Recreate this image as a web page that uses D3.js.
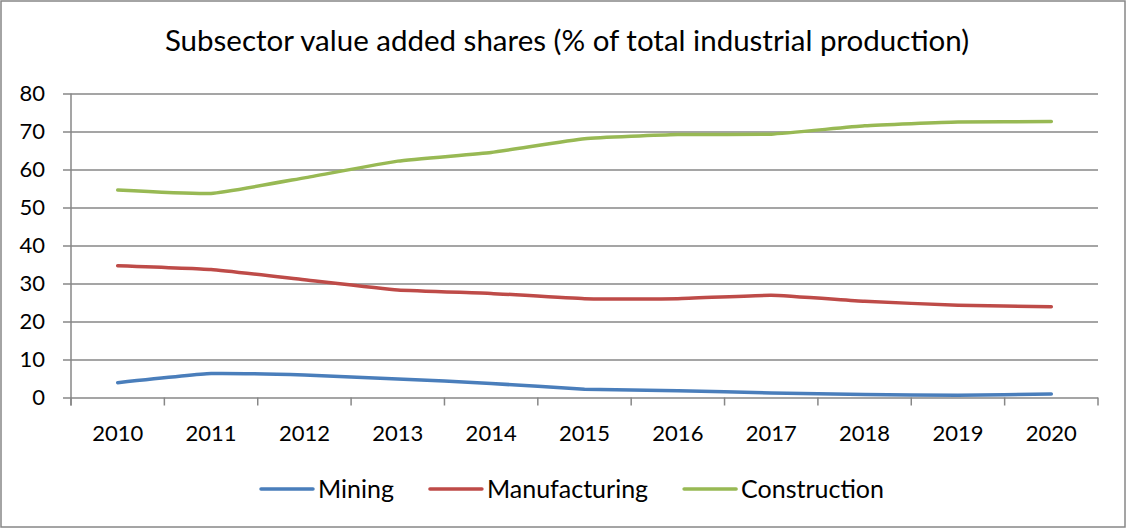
<!DOCTYPE html>
<html>
<head>
<meta charset="utf-8">
<script src="https://cdn.jsdelivr.net/npm/d3@7"></script>
<style>
  html, body { margin: 0; padding: 0; background: #fff; }
  svg { display: block; font-family: Lato, "Open Sans", sans-serif; }
</style>
</head>
<body>
<svg id="chart" width="1127" height="529"></svg>
<script>
const years = ["2010","2011","2012","2013","2014","2015","2016","2017","2018","2019","2020"];
const mining        = [3.9, 6.3, 5.9, 4.9, 3.7, 2.2, 1.8, 1.2, 0.8, 0.6, 0.9];
const manufacturing = [34.7, 33.7, 31.0, 28.3, 27.4, 26.0, 26.0, 26.9, 25.3, 24.3, 23.9];
const construction  = [54.6, 53.7, 57.8, 62.2, 64.5, 68.1, 69.2, 69.3, 71.5, 72.5, 72.6];
const yTicks = [0, 10, 20, 30, 40, 50, 60, 70, 80];
const title = "Subsector value added shares (% of total industrial production)";

const series = [
  { name: "Mining",        values: mining,        color: "#4a7ebb" },
  { name: "Manufacturing", values: manufacturing, color: "#be4b48" },
  { name: "Construction",  values: construction,  color: "#98b954" }
];

const svg = d3.select("#chart");
const width  = +svg.attr("width");
const height = +svg.attr("height");
const gridColor = "#878787";

const plot = { left: 71, right: 1098, top: 93.5, bottom: 397.5 };

const x = d3.scaleBand().domain(years).range([plot.left, plot.right]).padding(0);
const y = d3.scaleLinear().domain([0, 80]).range([plot.bottom, plot.top]);
const cx = d => x(d) + x.bandwidth() / 2;

// outer frame
svg.append("rect")
  .attr("x", 1).attr("y", 1).attr("width", width - 3).attr("height", height - 3)
  .attr("fill", "#fff").attr("stroke", gridColor).attr("stroke-width", 1.5);

// title
svg.append("text")
  .attr("x", 567).attr("y", 51)
  .attr("text-anchor", "middle")
  .attr("font-size", 29.5)
  .attr("fill", "#000")
  .text(title);

// gridlines + y axis
const yAxis = svg.append("g")
  .attr("transform", `translate(${plot.left},0)`)
  .call(d3.axisLeft(y).tickValues(yTicks).tickSize(8).tickPadding(18));
yAxis.select(".domain").remove();
yAxis.selectAll(".tick line").attr("stroke", gridColor).attr("stroke-width", 1.5)
  .attr("x2", plot.right - plot.left).attr("x1", -8);
yAxis.selectAll(".tick text").attr("font-size", 22).attr("fill", "#000")
  .attr("font-family", "Lato, 'Open Sans', sans-serif");

svg.append("line")
  .attr("x1", plot.left).attr("x2", plot.left)
  .attr("y1", plot.top).attr("y2", plot.bottom + 8)
  .attr("stroke", gridColor).attr("stroke-width", 1.5);

// x axis
const xAxis = svg.append("g")
  .attr("transform", `translate(0,${plot.bottom})`)
  .call(d3.axisBottom(x).tickSize(0).tickPadding(27.5));
xAxis.select(".domain").remove();
xAxis.selectAll(".tick text").attr("font-size", 22).attr("fill", "#000")
  .attr("font-family", "Lato, 'Open Sans', sans-serif");

const bounds = years.map(d => x(d)).concat([plot.right]);
svg.append("g").selectAll("line").data(bounds).join("line")
  .attr("x1", d => d).attr("x2", d => d)
  .attr("y1", plot.bottom).attr("y2", plot.bottom + 8)
  .attr("stroke", gridColor).attr("stroke-width", 1.5);

// series lines (Excel-like gentle smoothing)
const line = d3.line()
  .x((v, i) => cx(years[i]))
  .y(v => y(v))
  .curve(d3.curveCardinal.tension(0.6));

svg.append("g").selectAll("path").data(series).join("path")
  .attr("d", s => line(s.values))
  .attr("fill", "none")
  .attr("stroke", s => s.color)
  .attr("stroke-width", 3.5)
  .attr("stroke-linecap", "round")
  .attr("stroke-linejoin", "round");

// legend
const legend = svg.append("g").attr("transform", "translate(0,489)");
let lx = 261;
series.forEach(s => {
  legend.append("line")
    .attr("x1", lx).attr("x2", lx + 52)
    .attr("y1", 0).attr("y2", 0)
    .attr("stroke", s.color).attr("stroke-width", 3.5)
    .attr("stroke-linecap", "round");
  const t = legend.append("text")
    .attr("x", lx + 57).attr("y", 9)
    .attr("font-size", 25).attr("fill", "#000")
    .text(s.name);
  lx += 57 + t.node().getComputedTextLength() + 36;
});
</script>
</body>
</html>
